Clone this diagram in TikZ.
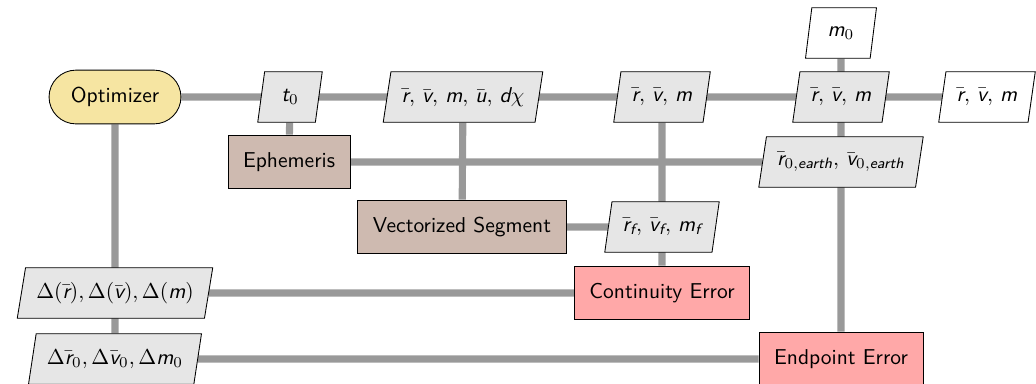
\documentclass[tikz,border=0pt]{standalone}
\usepackage{amsmath}
\usepackage{tikz}
\usetikzlibrary{shapes.geometric,shapes.misc,backgrounds}

\definecolor{optfill}{RGB}{246,229,162}
\definecolor{funcfill}{RGB}{206,186,176}
\definecolor{errfill}{RGB}{255,168,168}
\definecolor{datafill}{RGB}{230,230,230}
\definecolor{linkgray}{RGB}{153,153,153}

\newcommand{\sym}[1]{\text{\itshape #1}}
\newcommand{\vbar}[1]{\bar{\text{\itshape #1}}}

\begin{document}
\begin{tikzpicture}[
  x=0.465pt, y=-0.465pt,
  font=\sffamily,
  every node/.style={draw, thin, text=black},
  optim/.style={rounded rectangle, fill=optfill, minimum width=68pt, minimum height=25pt},
  func/.style={rectangle, fill=funcfill, minimum height=25pt, inner xsep=7pt},
  err/.style={rectangle, fill=errfill, minimum height=25pt, inner xsep=7pt},
  data/.style={trapezium, trapezium left angle=77, trapezium right angle=103,
    trapezium stretches body, fill=datafill, minimum height=23.5pt, inner xsep=5pt},
  io/.style={data, fill=white},
  link/.style={draw=linkgray, line width=3.3pt}
]
\useasboundingbox (0,0) rectangle (1036,383);

\node[optim] (opt) at (115,97) {Optimizer};
\node[data, minimum width=30pt] (t0) at (290,97) {$\sym{t}_0$};
\node[data] (seg in) at (463,97) {$\vbar{r},\, \vbar{v},\, \sym{m},\, \vbar{u},\, \sym{d}\chi$};
\node[data] (cont in) at (662,97) {$\vbar{r},\, \vbar{v},\, \sym{m}$};
\node[data] (end in) at (841,97) {$\vbar{r},\, \vbar{v},\, \sym{m}$};
\node[io] (out) at (987,97) {$\vbar{r},\, \vbar{v},\, \sym{m}$};
\node[io, minimum width=33pt] (m0) at (841,33) {$\sym{m}_0$};

\node[func] (eph) at (289,162) {Ephemeris};
\node[data] (earth) at (841,162) {$\vbar{r}_{0,\sym{earth}},\, \vbar{v}_{0,\sym{earth}}$};

\node[func] (seg) at (462,227) {Vectorized Segment};
\node[data] (final) at (662,227) {$\vbar{r}_{\sym{f}},\, \vbar{v}_{\sym{f}},\, \sym{m}_{\sym{f}}$};

\node[data] (dcont) at (115,293) {$\Delta(\vbar{r}), \Delta(\vbar{v}), \Delta(\sym{m})$};
\node[err] (cont) at (662,293) {Continuity Error};

\node[data] (dend) at (115,359) {$\Delta\vbar{r}_0, \Delta\vbar{v}_0, \Delta \sym{m}_0$};
\node[err] (endp) at (841,359) {Endpoint Error};

\begin{pgfonlayer}{background}
  \draw[link] (opt) -- (out);
  \draw[link] (opt) -- (dend);
  \draw[link] (t0) -- (eph);
  \draw[link] (seg in) -- (seg);
  \draw[link] (cont in) -- (cont);
  \draw[link] (m0) -- (endp);
  \draw[link] (eph) -- (earth);
  \draw[link] (seg) -- (final);
  \draw[link] (dcont) -- (cont);
  \draw[link] (dend) -- (endp);
\end{pgfonlayer}
\end{tikzpicture}
\end{document}
